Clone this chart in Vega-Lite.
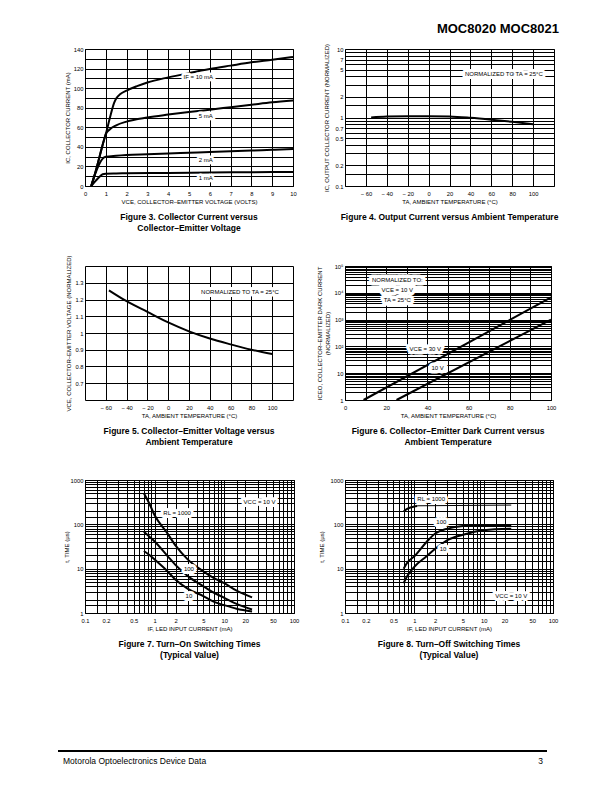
{
  "$schema": "https://vega.github.io/schema/vega-lite/v6.json",
  "padding": {"left": 57, "top": 22, "right": 5, "bottom": 5},
  "background": "white",
  "title": {"text": "MOC8020 MOC8021", "orient": "top", "anchor": "end", "frame": "bounds", "fontSize": 13, "fontWeight": 900, "offset": 7, "color": "black"},
  "config": {
    "font": "Liberation Sans",
    "view": {"stroke": "black", "strokeWidth": 1},
    "axis": {"grid": true, "gridColor": "black", "gridWidth": 1, "gridOpacity": 1, "domain": false, "ticks": false, "labelFontSize": 5.8, "titleFontSize": 6, "titleFontWeight": "normal", "labelColor": "black", "titleColor": "black", "labelFlush": false, "labelOverlap": false, "labelPadding": 2, "titlePadding": 3},
    "axisX": {"labelPadding": 4, "titlePadding": 3},
    "title": {"fontSize": 8.5, "fontWeight": "bold", "color": "black", "orient": "bottom", "anchor": "middle", "frame": "group", "offset": 8, "lineHeight": 11},
    "line": {"color": "black", "strokeWidth": 2, "interpolate": "monotone"},
    "text": {"fontSize": 6, "color": "black"}
  },
  "datasets": {
    "fig3": [
      {"s": "10", "x": 0.3, "y": 0}, {"s": "10", "x": 0.5, "y": 14}, {"s": "10", "x": 0.7, "y": 30}, {"s": "10", "x": 0.9, "y": 46}, {"s": "10", "x": 1, "y": 53}, {"s": "10", "x": 1.2, "y": 70}, {"s": "10", "x": 1.4, "y": 85}, {"s": "10", "x": 1.5, "y": 89.5}, {"s": "10", "x": 1.7, "y": 94}, {"s": "10", "x": 2, "y": 97.5}, {"s": "10", "x": 2.5, "y": 102}, {"s": "10", "x": 3, "y": 105.8}, {"s": "10", "x": 4, "y": 111}, {"s": "10", "x": 5, "y": 115.4}, {"s": "10", "x": 6, "y": 119.5}, {"s": "10", "x": 7, "y": 123}, {"s": "10", "x": 8, "y": 126.4}, {"s": "10", "x": 9, "y": 129}, {"s": "10", "x": 10, "y": 131.8},
      {"s": "5", "x": 0.3, "y": 0}, {"s": "5", "x": 0.5, "y": 14}, {"s": "5", "x": 0.7, "y": 30}, {"s": "5", "x": 0.9, "y": 46}, {"s": "5", "x": 1, "y": 53}, {"s": "5", "x": 1.2, "y": 58}, {"s": "5", "x": 1.5, "y": 62}, {"s": "5", "x": 2, "y": 65.8}, {"s": "5", "x": 3, "y": 70}, {"s": "5", "x": 4, "y": 73}, {"s": "5", "x": 5, "y": 75.7}, {"s": "5", "x": 6, "y": 78}, {"s": "5", "x": 7, "y": 80.5}, {"s": "5", "x": 8, "y": 83}, {"s": "5", "x": 9, "y": 85.5}, {"s": "5", "x": 10, "y": 87.5},
      {"s": "2", "x": 0.3, "y": 0}, {"s": "2", "x": 0.5, "y": 13}, {"s": "2", "x": 0.7, "y": 23}, {"s": "2", "x": 0.85, "y": 28}, {"s": "2", "x": 1, "y": 29.8}, {"s": "2", "x": 1.5, "y": 31}, {"s": "2", "x": 2, "y": 31.8}, {"s": "2", "x": 3, "y": 32.5}, {"s": "2", "x": 4, "y": 33.2}, {"s": "2", "x": 5, "y": 34}, {"s": "2", "x": 6, "y": 34.8}, {"s": "2", "x": 7, "y": 35.5}, {"s": "2", "x": 8, "y": 36.2}, {"s": "2", "x": 9, "y": 37}, {"s": "2", "x": 10, "y": 37.7},
      {"s": "1", "x": 0.3, "y": 0}, {"s": "1", "x": 0.5, "y": 5}, {"s": "1", "x": 0.7, "y": 9.5}, {"s": "1", "x": 0.85, "y": 12}, {"s": "1", "x": 1, "y": 12.5}, {"s": "1", "x": 1.5, "y": 12.8}, {"s": "1", "x": 2, "y": 13}, {"s": "1", "x": 4, "y": 13.4}, {"s": "1", "x": 6, "y": 13.8}, {"s": "1", "x": 8, "y": 14.1}, {"s": "1", "x": 10, "y": 14.4}
    ],
    "fig3labels": [
      {"x": 5.45, "y": 111, "label": "IF = 10 mA"},
      {"x": 5.8, "y": 72, "label": "5 mA"},
      {"x": 5.8, "y": 27, "label": "2 mA"},
      {"x": 5.8, "y": 8, "label": "1 mA"}
    ],
    "fig4": [
      {"x": -55, "y": 1.0}, {"x": -40, "y": 1.03}, {"x": -20, "y": 1.045}, {"x": 0, "y": 1.045}, {"x": 20, "y": 1.035}, {"x": 40, "y": 0.99}, {"x": 60, "y": 0.93}, {"x": 80, "y": 0.865}, {"x": 100, "y": 0.8}
    ],
    "fig4labels": [
      {"x": 72, "y": 4.3, "label": "NORMALIZED TO TA = 25°C"}
    ],
    "fig5": [
      {"x": -57, "y": 1.255}, {"x": -40, "y": 1.19}, {"x": -20, "y": 1.126}, {"x": 0, "y": 1.063}, {"x": 20, "y": 1.01}, {"x": 40, "y": 0.967}, {"x": 60, "y": 0.932}, {"x": 80, "y": 0.9}, {"x": 100, "y": 0.874}
    ],
    "fig5labels": [
      {"x": 69, "y": 1.245, "label": "NORMALIZED TO TA = 25°C"}
    ],
    "fig6": [
      {"s": "30", "x": 9, "y": 1}, {"s": "30", "x": 100, "y": 6700},
      {"s": "10", "x": 25, "y": 1}, {"s": "10", "x": 100, "y": 1000}
    ],
    "fig6labels": [
      {"x": 25.4, "y": 31000, "label": "NORMALIZED TO:"},
      {"x": 25.4, "y": 13200, "label": "VCE = 10 V"},
      {"x": 25.4, "y": 5560, "label": "TA = 25°C"},
      {"x": 39, "y": 77, "label": "VCE = 30 V"},
      {"x": 45, "y": 15.4, "label": "10 V"}
    ],
    "fig7": [
      {"s": "1000", "x": 0.7, "y": 500}, {"s": "1000", "x": 0.85, "y": 280}, {"s": "1000", "x": 1, "y": 160}, {"s": "1000", "x": 1.5, "y": 65}, {"s": "1000", "x": 2, "y": 33}, {"s": "1000", "x": 3, "y": 16}, {"s": "1000", "x": 5, "y": 8.7}, {"s": "1000", "x": 7, "y": 6.2}, {"s": "1000", "x": 10, "y": 4.7}, {"s": "1000", "x": 15, "y": 3.2}, {"s": "1000", "x": 25, "y": 2.25},
      {"s": "100", "x": 0.7, "y": 68}, {"s": "100", "x": 0.85, "y": 52}, {"s": "100", "x": 1, "y": 41}, {"s": "100", "x": 1.5, "y": 20}, {"s": "100", "x": 2, "y": 12}, {"s": "100", "x": 3, "y": 6.8}, {"s": "100", "x": 5, "y": 4}, {"s": "100", "x": 7, "y": 2.9}, {"s": "100", "x": 10, "y": 2.2}, {"s": "100", "x": 15, "y": 1.6}, {"s": "100", "x": 25, "y": 1.2},
      {"s": "10", "x": 0.7, "y": 25}, {"s": "10", "x": 0.85, "y": 20}, {"s": "10", "x": 1, "y": 16}, {"s": "10", "x": 1.5, "y": 9}, {"s": "10", "x": 2, "y": 5.6}, {"s": "10", "x": 3, "y": 3.5}, {"s": "10", "x": 5, "y": 2.4}, {"s": "10", "x": 7, "y": 1.8}, {"s": "10", "x": 10, "y": 1.5}, {"s": "10", "x": 15, "y": 1.25}, {"s": "10", "x": 25, "y": 1.08}
    ],
    "fig7labels": [
      {"x": 2.1, "y": 180, "label": "RL = 1000"},
      {"x": 3.1, "y": 10, "label": "100"},
      {"x": 3.1, "y": 2.4, "label": "10"},
      {"x": 32, "y": 316, "label": "VCC = 10 V"}
    ],
    "fig8": [
      {"s": "1000", "x": 0.7, "y": 195}, {"s": "1000", "x": 0.8, "y": 225}, {"s": "1000", "x": 0.9, "y": 242}, {"s": "1000", "x": 1, "y": 252}, {"s": "1000", "x": 1.1, "y": 258},
      {"s": "1000b", "x": 1.1, "y": 262}, {"s": "1000b", "x": 25, "y": 272},
      {"s": "100", "x": 0.7, "y": 10}, {"s": "100", "x": 0.8, "y": 14}, {"s": "100", "x": 1, "y": 19}, {"s": "100", "x": 1.5, "y": 40}, {"s": "100", "x": 2, "y": 62}, {"s": "100", "x": 3, "y": 80}, {"s": "100", "x": 5, "y": 92}, {"s": "100", "x": 10, "y": 95}, {"s": "100", "x": 25, "y": 95},
      {"s": "10", "x": 0.7, "y": 4.7}, {"s": "10", "x": 0.8, "y": 7}, {"s": "10", "x": 1, "y": 11}, {"s": "10", "x": 1.5, "y": 19}, {"s": "10", "x": 2, "y": 28}, {"s": "10", "x": 3, "y": 44}, {"s": "10", "x": 5, "y": 58}, {"s": "10", "x": 10, "y": 74}, {"s": "10", "x": 25, "y": 80}
    ],
    "fig8labels": [
      {"x": 1.75, "y": 370, "label": "RL = 1000"},
      {"x": 2.45, "y": 112, "label": "100"},
      {"x": 2.6, "y": 28, "label": "10"},
      {"x": 25, "y": 2.4, "label": "VCC = 10 V"}
    ],
    "footer": [
      {"label": "Motorola Optoelectronics Device Data", "pos": 0},
      {"label": "3", "pos": 1}
    ]
  },
  "columns": 2,
  "spacing": {"row": 80, "column": 51},
  "bounds": "flush",
  "concat": [
    {
      "width": 208, "height": 137,
      "title": {"text": ["Figure 3. Collector Current versus", "Collector–Emitter Voltage"]},
      "encoding": {
        "x": {"field": "x", "type": "quantitative", "scale": {"domain": [0, 10], "nice": false}, "axis": {"values": [0,1,2,3,4,5,6,7,8,9,10], "title": "VCE, COLLECTOR–EMITTER VOLTAGE (VOLTS)"}},
        "y": {"field": "y", "type": "quantitative", "scale": {"domain": [0, 140], "nice": false}, "axis": {"values": [0,10,20,30,40,50,60,70,80,90,100,110,120,130,140], "labelExpr": "datum.value % 20 == 0 ? datum.label : ''", "title": "IC, COLLECTOR CURRENT (mA)"}}
      },
      "layer": [
        {"data": {"name": "fig3"}, "mark": {"type": "line"}, "encoding": {"detail": {"field": "s"}}},
        {"data": {"name": "fig3labels"}, "mark": {"type": "text", "fill": "white", "stroke": "white", "strokeWidth": 5, "strokeJoin": "round"}, "encoding": {"text": {"field": "label"}}},
        {"data": {"name": "fig3labels"}, "mark": {"type": "text"}, "encoding": {"text": {"field": "label"}}}
      ]
    },
    {
      "width": 209, "height": 137,
      "title": {"text": "Figure 4. Output Current versus Ambient Temperature"},
      "encoding": {
        "x": {"field": "x", "type": "quantitative", "scale": {"domain": [-80, 120], "nice": false}, "axis": {"values": [-60,-40,-20,0,20,40,60,80,100], "labelExpr": "datum.value < 0 ? '− ' + (-datum.value) : datum.label", "title": "TA, AMBIENT TEMPERATURE (°C)"}},
        "y": {"field": "y", "type": "quantitative", "scale": {"type": "log", "domain": [0.1, 10], "nice": false}, "axis": {"values": [0.1,0.15,0.2,0.3,0.4,0.5,0.6,0.7,0.8,0.9,1,1.5,2,3,4,5,6,7,8,9,10], "labelExpr": "indexof([0.1,0.2,0.5,0.7,1,2,5,7,10], datum.value) >= 0 ? format(datum.value, '~g') : ''", "title": "IC, OUTPUT COLLECTOR CURRENT (NORMALIZED)", "titlePadding": 5}}
      },
      "layer": [
        {"data": {"name": "fig4"}, "mark": {"type": "line"}},
        {"data": {"name": "fig4labels"}, "mark": {"type": "text", "fill": "white", "stroke": "white", "strokeWidth": 6, "strokeJoin": "round"}, "encoding": {"text": {"field": "label"}}},
        {"data": {"name": "fig4labels"}, "mark": {"type": "text"}, "encoding": {"text": {"field": "label"}}}
      ]
    },
    {
      "width": 208, "height": 134,
      "title": {"text": ["Figure 5. Collector–Emitter Voltage versus", "Ambient Temperature"]},
      "encoding": {
        "x": {"field": "x", "type": "quantitative", "scale": {"domain": [-80, 120], "nice": false}, "axis": {"values": [-60,-40,-20,0,20,40,60,80,100], "labelExpr": "datum.value < 0 ? '− ' + (-datum.value) : datum.label", "title": "TA, AMBIENT TEMPERATURE (°C)"}},
        "y": {"field": "y", "type": "quantitative", "scale": {"domain": [0.6, 1.4], "nice": false, "zero": false}, "axis": {"values": [0.7,0.8,0.9,1,1.1,1.2,1.3], "format": "~g", "title": "VCE, COLLECTOR–EMITTER VOLTAGE (NORMALIZED)"}}
      },
      "layer": [
        {"data": {"name": "fig5"}, "mark": {"type": "line"}},
        {"data": {"name": "fig5labels"}, "mark": {"type": "text", "fill": "white", "stroke": "white", "strokeWidth": 6, "strokeJoin": "round"}, "encoding": {"text": {"field": "label"}}},
        {"data": {"name": "fig5labels"}, "mark": {"type": "text"}, "encoding": {"text": {"field": "label"}}}
      ]
    },
    {
      "width": 206, "height": 134,
      "title": {"text": ["Figure 6. Collector–Emitter Dark Current versus", "Ambient Temperature"]},
      "encoding": {
        "x": {"field": "x", "type": "quantitative", "scale": {"domain": [0, 100], "nice": false}, "axis": {"values": [0,10,20,30,40,50,60,70,80,90,100], "labelExpr": "datum.value % 20 == 0 ? datum.label : ''", "title": "TA, AMBIENT TEMPERATURE (°C)"}},
        "y": {"field": "y", "type": "quantitative", "scale": {"type": "log", "domain": [1, 100000], "nice": false}, "axis": {"values": [1,2,3,4,5,6,7,8,9,10,20,30,40,50,60,70,80,90,100,200,300,400,500,600,700,800,900,1000,2000,3000,4000,5000,6000,7000,8000,9000,10000,20000,30000,40000,50000,60000,70000,80000,90000,100000], "labelExpr": "datum.value == 1 ? '1' : datum.value == 10 ? '10' : datum.value == 100 ? '10²' : datum.value == 1000 ? '10³' : datum.value == 10000 ? '10⁴' : datum.value == 100000 ? '10⁵' : ''", "title": ["ICEO, COLLECTOR–EMITTER DARK CURRENT", "(NORMALIZED)"], "titlePadding": 4}}
      },
      "layer": [
        {"data": {"name": "fig6"}, "mark": {"type": "line", "interpolate": "linear"}, "encoding": {"detail": {"field": "s"}}},
        {"data": {"name": "fig6labels"}, "mark": {"type": "text", "fill": "white", "stroke": "white", "strokeWidth": 7, "strokeJoin": "round"}, "encoding": {"text": {"field": "label"}}},
        {"data": {"name": "fig6labels"}, "mark": {"type": "text"}, "encoding": {"text": {"field": "label"}}}
      ]
    },
    {
      "width": 209, "height": 133,
      "title": {"text": ["Figure 7. Turn–On Switching Times", "(Typical Value)"]},
      "encoding": {
        "x": {"field": "x", "type": "quantitative", "scale": {"type": "log", "domain": [0.1, 100], "nice": false}, "axis": {"values": [0.1,0.15,0.2,0.3,0.4,0.5,0.6,0.7,0.8,0.9,1,1.5,2,3,4,5,6,7,8,9,10,15,20,30,40,50,60,70,80,90,100], "labelExpr": "indexof([0.1,0.2,0.5,1,2,5,10,20,50,100], datum.value) >= 0 ? format(datum.value, '~g') : ''", "title": "IF, LED INPUT CURRENT (mA)"}},
        "y": {"field": "y", "type": "quantitative", "scale": {"type": "log", "domain": [1, 1000], "nice": false}, "axis": {"values": [1,1.5,2,3,4,5,6,7,8,9,10,15,20,30,40,50,60,70,80,90,100,150,200,300,400,500,600,700,800,900,1000], "labelExpr": "indexof([1,10,100,1000], datum.value) >= 0 ? format(datum.value, '~g') : ''", "title": "t, TIME (µs)", "titlePadding": 1}}
      },
      "layer": [
        {"data": {"name": "fig7"}, "mark": {"type": "line"}, "encoding": {"detail": {"field": "s"}}},
        {"data": {"name": "fig7labels"}, "mark": {"type": "text", "fill": "white", "stroke": "white", "strokeWidth": 6, "strokeJoin": "round"}, "encoding": {"text": {"field": "label"}}},
        {"data": {"name": "fig7labels"}, "mark": {"type": "text"}, "encoding": {"text": {"field": "label"}}}
      ]
    },
    {
      "width": 208, "height": 133,
      "title": {"text": ["Figure 8. Turn–Off Switching Times", "(Typical Value)"]},
      "encoding": {
        "x": {"field": "x", "type": "quantitative", "scale": {"type": "log", "domain": [0.1, 100], "nice": false}, "axis": {"values": [0.1,0.15,0.2,0.3,0.4,0.5,0.6,0.7,0.8,0.9,1,1.5,2,3,4,5,6,7,8,9,10,15,20,30,40,50,60,70,80,90,100], "labelExpr": "indexof([0.1,0.2,0.5,1,2,5,10,20,50,100], datum.value) >= 0 ? format(datum.value, '~g') : ''", "title": "IF, LED INPUT CURRENT (mA)"}},
        "y": {"field": "y", "type": "quantitative", "scale": {"type": "log", "domain": [1, 1000], "nice": false}, "axis": {"values": [1,1.5,2,3,4,5,6,7,8,9,10,15,20,30,40,50,60,70,80,90,100,150,200,300,400,500,600,700,800,900,1000], "labelExpr": "indexof([1,10,100,1000], datum.value) >= 0 ? format(datum.value, '~g') : ''", "title": "t, TIME (µs)", "titlePadding": 6}}
      },
      "layer": [
        {"data": {"name": "fig8"}, "transform": [{"filter": "datum.s != '1000b'"}], "mark": {"type": "line"}, "encoding": {"detail": {"field": "s"}}},
        {"data": {"name": "fig8"}, "transform": [{"filter": "datum.s == '1000b'"}], "mark": {"type": "line", "strokeWidth": 1, "interpolate": "linear"}, "encoding": {"detail": {"field": "s"}}},
        {"data": {"name": "fig8labels"}, "mark": {"type": "text", "fill": "white", "stroke": "white", "strokeWidth": 6, "strokeJoin": "round"}, "encoding": {"text": {"field": "label"}}},
        {"data": {"name": "fig8labels"}, "mark": {"type": "text"}, "encoding": {"text": {"field": "label"}}}
      ]
    },
    {
      "width": 200, "height": 58,
      "view": {"stroke": null},
      "data": {"name": "footer"},
      "layer": [
        {
          "transform": [{"filter": "datum.pos == 0"}],
          "mark": {"type": "rule", "strokeWidth": 2, "color": "black"},
          "encoding": {
            "x": {"datum": 0, "type": "quantitative", "scale": {"domain": [0, 1], "range": [-27, 462]}, "axis": null},
            "x2": {"datum": 1},
            "y": {"datum": 0, "type": "quantitative", "scale": {"domain": [0, 1]}, "axis": null}
          }
        },
        {
          "transform": [{"filter": "datum.pos == 0"}],
          "mark": {"type": "text", "align": "left", "baseline": "middle", "dx": 5, "dy": 10, "fontSize": 8.5},
          "encoding": {
            "x": {"field": "pos", "type": "quantitative", "scale": {"domain": [0, 1], "range": [-27, 462]}, "axis": null},
            "y": {"datum": 0, "type": "quantitative", "scale": {"domain": [0, 1]}, "axis": null},
            "text": {"field": "label"}
          }
        },
        {
          "transform": [{"filter": "datum.pos == 1"}],
          "mark": {"type": "text", "align": "right", "baseline": "middle", "dx": -4, "dy": 10, "fontSize": 8.5},
          "encoding": {
            "x": {"field": "pos", "type": "quantitative", "scale": {"domain": [0, 1], "range": [-27, 462]}, "axis": null},
            "y": {"datum": 0, "type": "quantitative", "scale": {"domain": [0, 1]}, "axis": null},
            "text": {"field": "label"}
          }
        }
      ]
    }
  ]
}
